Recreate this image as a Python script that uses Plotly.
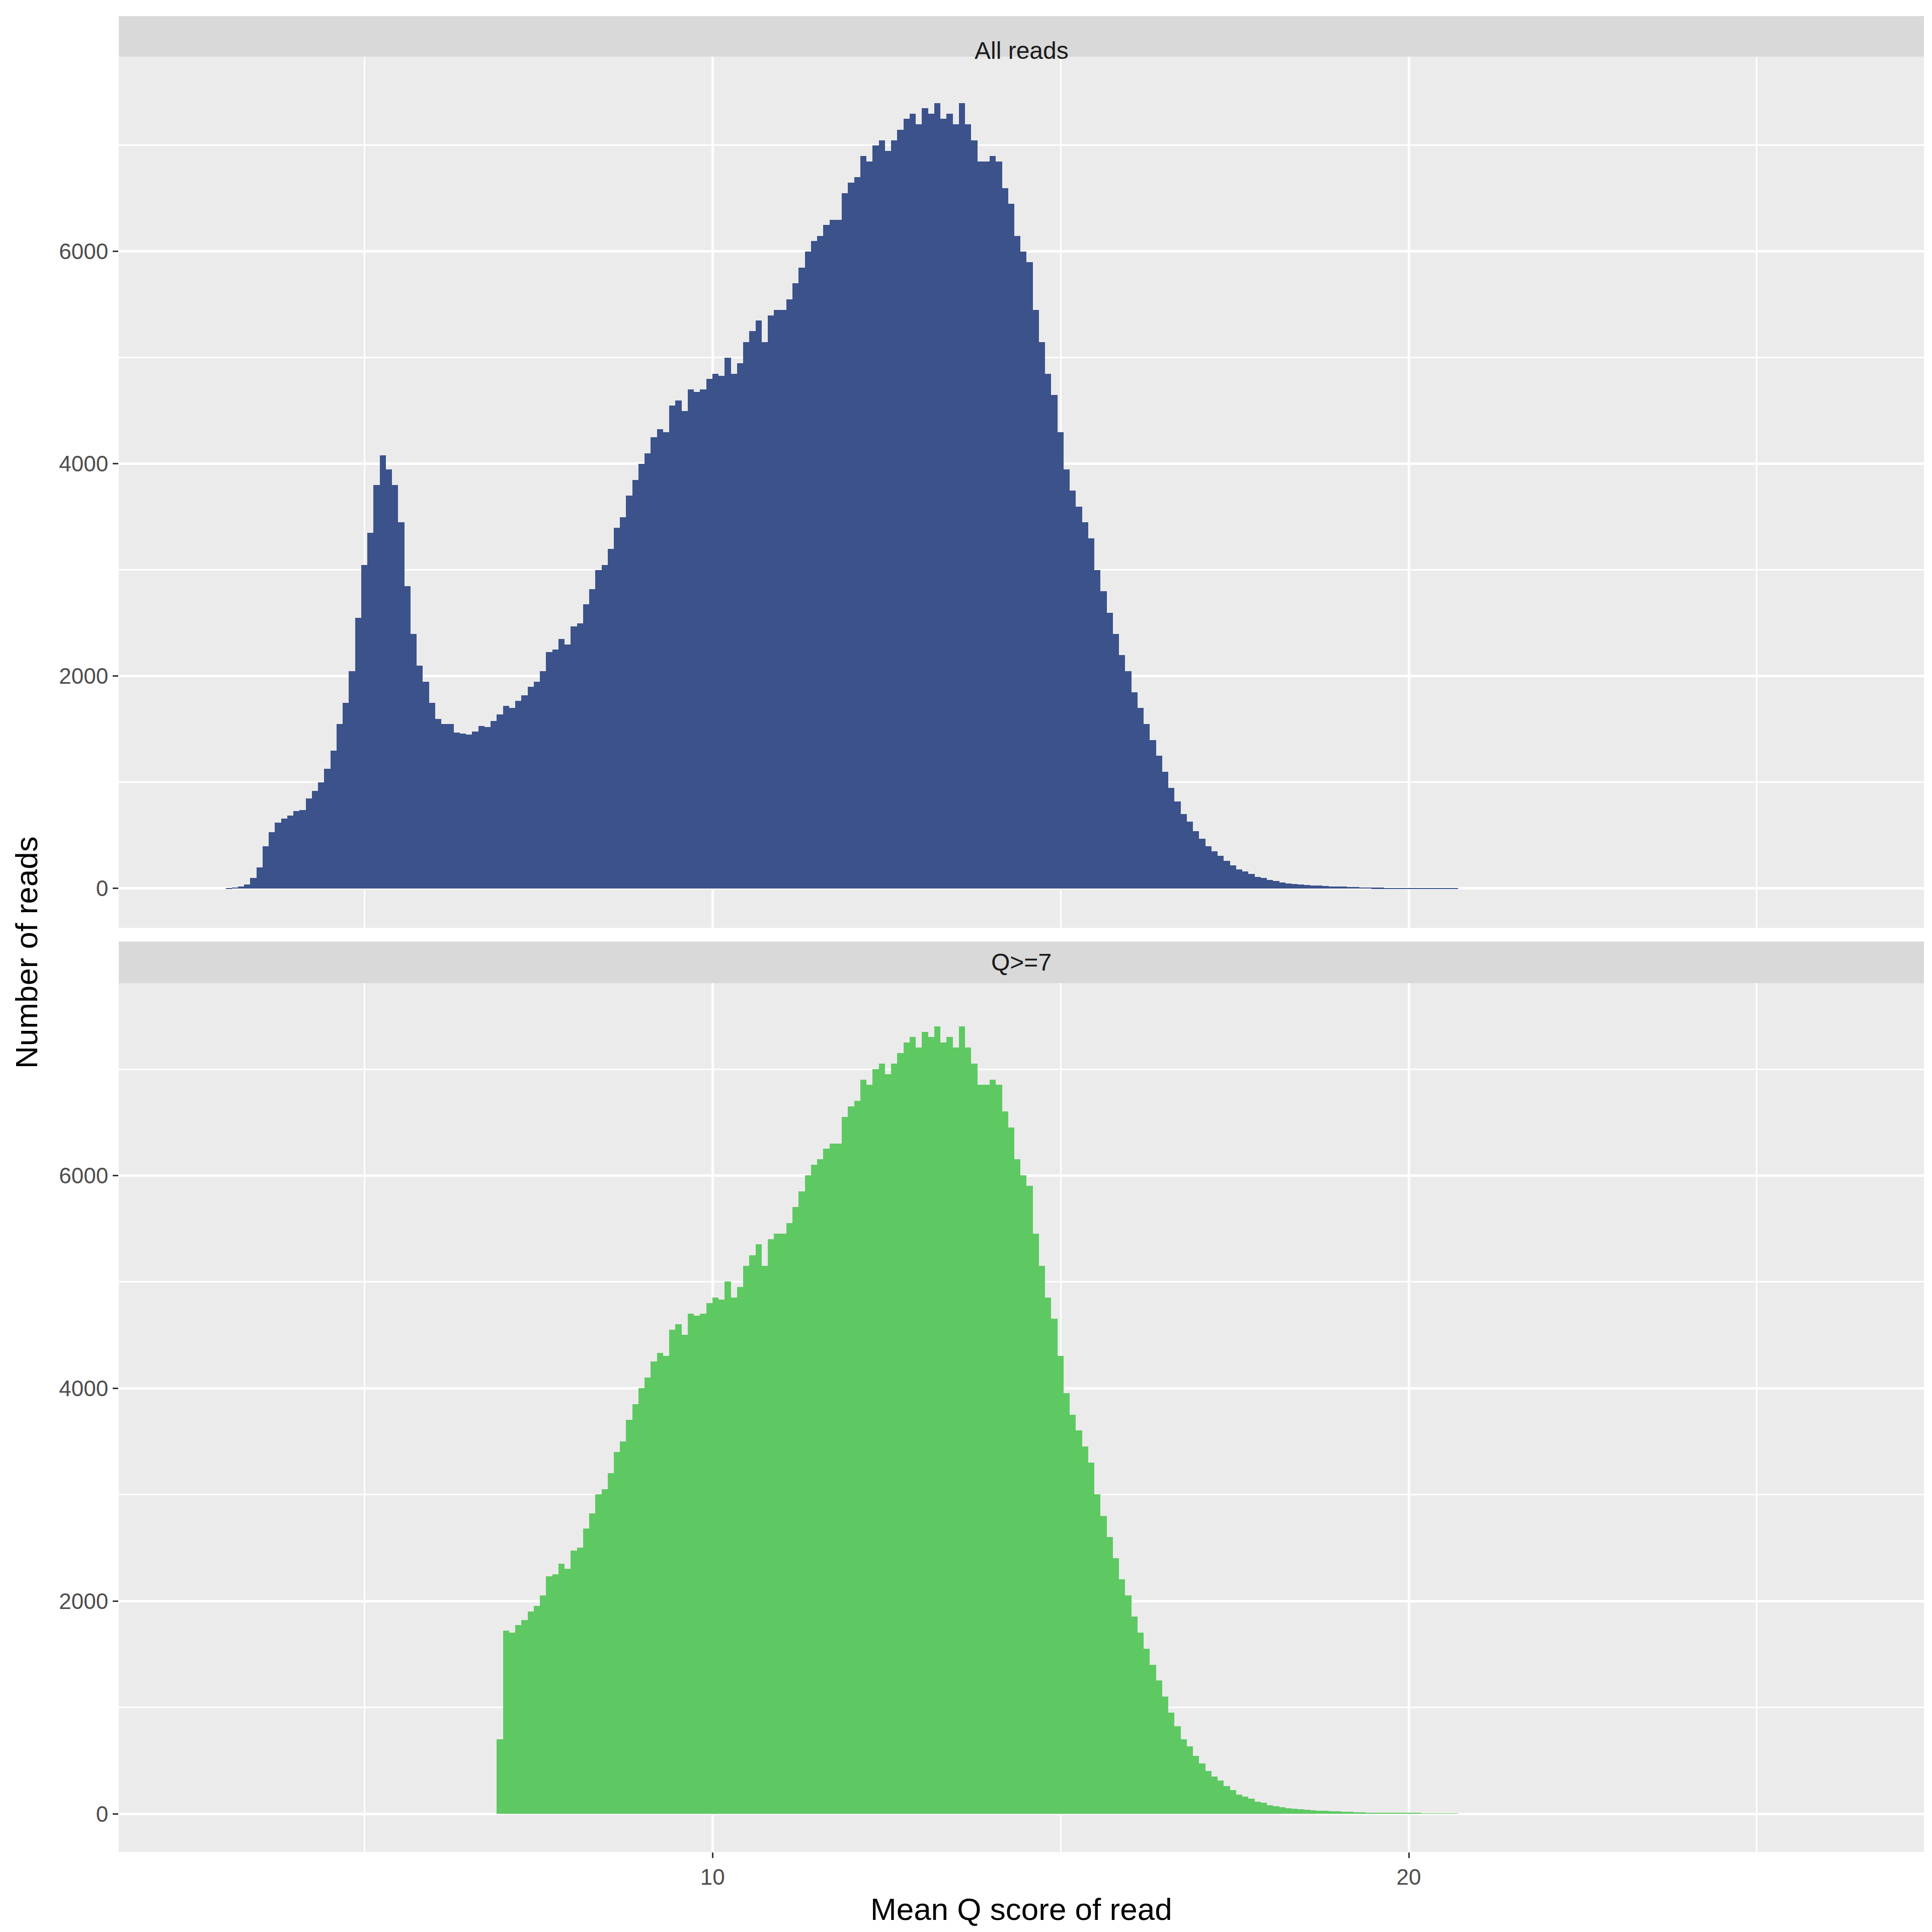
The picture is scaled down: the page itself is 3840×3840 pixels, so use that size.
import numpy as np
import plotly.graph_objects as go

# Histogram of mean read Q score (bin width ~0.089)
BIN_START = 3.05
BIN_WIDTH = 0.0885
counts_all = [5, 10, 20, 40,
    100, 200, 400, 530, 620, 660, 690, 730, 740, 850, 920, 1000, 1130, 1300, 1550, 1750, 2050, 2550,
    3050, 3350, 3800, 4080, 3950, 3800, 3450, 2850, 2400, 2100, 1950, 1750, 1600, 1550, 1550, 1470,
    1460, 1450, 1480, 1530, 1520, 1580, 1640, 1720, 1700, 1770, 1820, 1900, 1950, 2050, 2230, 2250,
    2350, 2300, 2470, 2500, 2680, 2820, 3000, 3050, 3200, 3400, 3500, 3700, 3850, 4000, 4100, 4250,
    4330, 4300, 4550, 4600, 4500, 4700, 4680, 4700, 4800, 4850, 4830, 5000, 4850, 4950, 5150, 5250,
    5350, 5150, 5400, 5450, 5450, 5550, 5700, 5850, 6000, 6100, 6150, 6250, 6300, 6300, 6550, 6650,
    6700, 6900, 6850, 7000, 7050, 6950, 7050, 7150, 7250, 7300, 7200, 7350, 7300, 7400, 7250, 7300,
    7200, 7400, 7200, 7050, 6850, 6850, 6900, 6850, 6600, 6450, 6150, 6000, 5900, 5450, 5150, 4850,
    4650, 4300, 3950, 3750, 3600, 3450, 3300, 3000, 2800, 2600, 2400, 2200, 2050, 1850, 1700, 1550,
    1400, 1250, 1100, 950, 820, 700, 630, 540, 470, 400, 350, 310, 260, 220, 180, 160, 140, 110, 100,
    80, 70, 60, 50, 45, 40, 35, 30, 28, 25, 22, 20, 18, 15, 13, 12, 10, 9, 8, 7, 6, 5, 5, 4, 4, 3, 3,
    2, 2, 2, 1]
Q_CUT = 7.0
PARTIAL_FIRST = 700  # partial bin at the Q>=7 cut
q_all = BIN_START + BIN_WIDTH * np.arange(len(counts_all))
counts_all = np.array(counts_all)
mask = q_all >= Q_CUT + 0.03
first = np.argmax(mask)
q_hi = np.concatenate([[q_all[first - 1]], q_all[mask]])
counts_hi = np.concatenate([[PARTIAL_FIRST], counts_all[mask]])

NAVY = "#3B528B"
GREEN = "#5EC962"
H = 1490.0
dom_bot = [0, 705 / H]
strip_bot = [705 / H, 739 / H]
dom_top = [750 / H, 1457 / H]
strip_top = [1457 / H, 1.0]

fig = go.Figure()
fig.add_bar(x=q_all, y=counts_all, width=BIN_WIDTH, marker=dict(color=NAVY, line=dict(width=0)),
            xaxis="x", yaxis="y")
fig.add_bar(x=q_hi, y=counts_hi, width=BIN_WIDTH, marker=dict(color=GREEN, line=dict(width=0)),
            xaxis="x2", yaxis="y2")

FONT = "Liberation Sans, Arial, sans-serif"
tickfont = dict(family=FONT, size=44, color="#4D4D4D")
def xax(show, anchor):
    return dict(range=[1.47, 27.4], domain=[0, 1], anchor=anchor, showgrid=True, gridcolor="white",
                gridwidth=5, tickvals=[10, 20], showticklabels=show, ticks="outside" if show else "",
                ticklen=11, tickwidth=3, tickcolor="#333333", tickfont=tickfont, zeroline=False,
                minor=dict(tickvals=[5, 15, 25], showgrid=True, gridcolor="white", gridwidth=2.5, ticks=""))
def yax(dom, rng, anchor):
    return dict(range=rng, domain=dom, anchor=anchor, showgrid=True, gridcolor="white", gridwidth=5,
                tickvals=[0, 2000, 4000, 6000], ticks="outside", ticklen=11, tickwidth=3,
                tickcolor="#333333", tickfont=tickfont, zeroline=False,
                minor=dict(tickvals=[1000, 3000, 5000, 7000], showgrid=True, gridcolor="white",
                           gridwidth=2.5, ticks=""))

fig.update_layout(
    width=3840, height=3840, paper_bgcolor="white", plot_bgcolor="#EBEBEB",
    margin=dict(l=228, r=24, t=24, b=167), showlegend=False, bargap=0,
    xaxis=xax(False, "y"), yaxis=yax(dom_top, [-371, 7835], "x"),
    xaxis2=xax(True, "y2"), yaxis2=yax(dom_bot, [-359, 7807], "x2"),
)
stripfont = dict(family=FONT, size=48, color="#1A1A1A")
for dom, label in [(strip_top, "All reads"), (strip_bot, "Q>=7")]:
    fig.add_shape(type="rect", xref="paper", yref="paper", x0=0, x1=1, y0=dom[0], y1=dom[1],
                  fillcolor="#D9D9D9", line=dict(width=0), layer="below")
    fig.add_annotation(text=label, xref="paper", yref="paper", x=0.5, y=(dom[0] + dom[1]) / 2,
                       showarrow=False, font=stripfont)
titlefont = dict(family=FONT, size=62, color="black")
fig.add_annotation(text="Mean Q score of read", xref="paper", yref="paper", x=0.5, y=-0.031,
                   showarrow=False, font=titlefont, yanchor="middle")
fig.add_annotation(text="Number of reads", xref="paper", yref="paper", x=-0.051, y=0.49,
                   showarrow=False, font=titlefont, textangle=-90, xanchor="center")
fig.write_html("out.html")
